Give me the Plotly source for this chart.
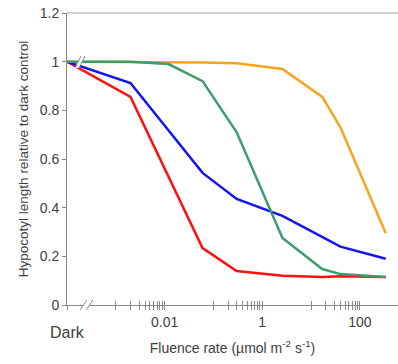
import math
import plotly.graph_objects as go

# ---- data ----
dark_x = 1e-4          # position used for the "Dark" control on the log axis
dark_y = 1.0

fluence = [0.002, 0.06, 0.3, 2.6, 17, 40, 340]
red_vals = [0.855, 0.234, 0.14, 0.12, 0.115, 0.118, 0.115]
blue_vals = [0.912, 0.543, 0.436, 0.366, 0.28, 0.24, 0.19]
orange_vals = [0.999, 0.997, 0.993, 0.97, 0.855, 0.73, 0.295]

green_fluence = [0.002, 0.012, 0.06, 0.3, 2.6, 17, 40, 340]
green_vals = [1.0, 0.99, 0.92, 0.71, 0.275, 0.148, 0.127, 0.115]

x_tickvals = [1e-4,
              0.001, 0.002, 0.003, 0.004, 0.005, 0.006, 0.007, 0.008, 0.009, 0.01,
              0.1, 0.2, 0.3, 0.4, 0.5, 0.6, 0.7, 0.8, 0.9, 1,
              10, 20, 30, 40, 50, 60, 70, 80, 90, 100]
x_labelled = {0.01: "0.01", 1: "1", 100: "100"}
x_ticktext = [x_labelled.get(v, "") for v in x_tickvals]
y_tickvals = [0, 0.2, 0.4, 0.6, 0.8, 1.0, 1.2]

colors = {"orange": "#F7A41C", "red": "#FF1010", "blue": "#1414F0", "green": "#3D9B6C"}

W, H = 398, 364
L, R, T, B = 67, 0, 13, 59
pw, ph = W - L - R, H - T - B
FONT = "Liberation Sans, Arial, sans-serif"
TXT = "#404040"
AX = "#8a8a8a"

fig = go.Figure()

series = [
    ("orange", fluence, orange_vals),
    ("red", fluence, red_vals),
    ("blue", fluence, blue_vals),
    ("green", green_fluence, green_vals),
]
for name, xs, ys in series:
    fig.add_trace(go.Scatter(
        x=[dark_x] + xs, y=[dark_y] + ys, mode="lines", name=name,
        line=dict(color=colors[name], width=2.5), showlegend=False,
        hoverinfo="skip"))

# invisible trace for the overlay axis that draws the upper half of the crossing ticks
fig.add_trace(go.Scatter(x=[dark_x], y=[0], xaxis="x2", mode="markers",
                         marker=dict(opacity=0), showlegend=False, hoverinfo="skip"))

xrange = [-4, -4 + pw / 48.8]

fig.update_layout(
    width=W, height=H,
    margin=dict(l=L, r=R, t=T, b=B),
    paper_bgcolor="white", plot_bgcolor="white",
    font=dict(family=FONT, color=TXT, size=14),
    xaxis=dict(type="log", range=xrange, autorange=False,
               tickmode="array", tickvals=x_tickvals, ticktext=x_ticktext,
               ticks="outside", ticklen=4, tickcolor=AX, tickwidth=1,
               showline=True, linecolor=AX, linewidth=1,
               showgrid=False, zeroline=False,
               tickfont=dict(size=14, color=TXT),
               title=dict(text="Fluence rate (µmol m<sup>-2</sup> s<sup>-1</sup>)",
                          font=dict(size=14, color=TXT), standoff=14)),
    xaxis2=dict(type="log", range=xrange, autorange=False, overlaying="x",
                anchor="y", side="bottom",
                tickmode="array", tickvals=x_tickvals,
                ticks="inside", ticklen=4, tickcolor=AX, tickwidth=1,
                showticklabels=False, showline=False, showgrid=False, zeroline=False),
    yaxis=dict(range=[0, 1.2], autorange=False,
               tickmode="array", tickvals=y_tickvals,
               ticks="outside", ticklen=4, tickcolor=AX, tickwidth=1,
               showline=True, linecolor=AX, linewidth=1,
               showgrid=False, zeroline=False,
               tickfont=dict(size=14, color=TXT),
               title=dict(text="Hypocotyl length relative to dark control",
                          font=dict(size=13.5, color=TXT), standoff=8)),
)


def px(x):
    return (x - L) / pw


def py(y):
    return (H - B - y) / ph


shapes = []
# top frame line
shapes.append(dict(type="line", xref="paper", yref="paper", x0=0, x1=1, y0=1, y1=1,
                   line=dict(color="#a0a0a0", width=1)))


def brk(xa, ya, xb, yb, gap):
    # white parallelogram with two slanted strokes
    path = (f"M {px(xa)},{py(ya)} L {px(xb)},{py(yb)} "
            f"L {px(xb + gap)},{py(yb)} L {px(xa + gap)},{py(ya)} Z")
    out = [dict(type="path", xref="paper", yref="paper", path=path,
                fillcolor="white", line=dict(width=0))]
    for dx in (0, gap):
        out.append(dict(type="line", xref="paper", yref="paper",
                        x0=px(xa + dx), y0=py(ya), x1=px(xb + dx), y1=py(yb),
                        line=dict(color="#8a8a8a", width=1)))
    return out


shapes += brk(75, 68, 81, 56, 4)     # break across the data lines
shapes += brk(80, 310, 87, 300, 6)   # break on the x axis
fig.update_layout(shapes=shapes)

fig.add_annotation(x=math.log10(dark_x), xref="x", y=py(332), yref="paper",
                   text="Dark", showarrow=False, font=dict(size=16, color=TXT),
                   xanchor="center", yanchor="middle")

fig.write_html("out.html")
